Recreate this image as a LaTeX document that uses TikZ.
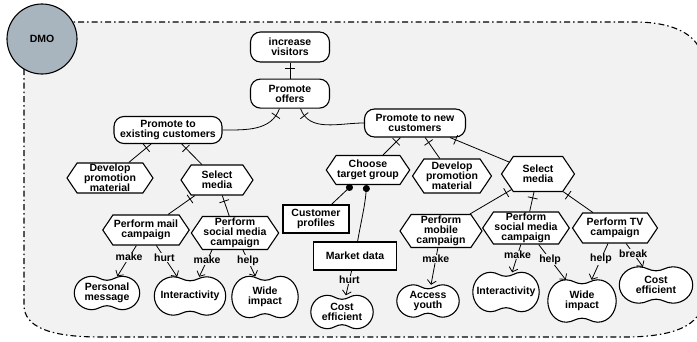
\documentclass[tikz,border=0pt]{standalone}
\usepackage{fontspec}
\setmainfont{Liberation Sans}
\usetikzlibrary{arrows.meta,calc,positioning,shapes.symbols,decorations.markings,backgrounds}

\definecolor{bggray}{RGB}{242,242,242}
\definecolor{dmoblue}{RGB}{168,180,190}
\newcommand{\istarfont}{\bfseries\fontsize{10.5}{9.8}\selectfont\lineskiplimit=-5pt\relax}

\tikzset{
  istar/.style={draw, fill=white, line width=1.1pt, align=center, inner sep=1pt, font=\istarfont},
  goal/.style={istar, rectangle, rounded corners=10pt},
  task/.style={istar, signal, signal to=west and east, signal pointer angle=112},
  res/.style={istar, rectangle},
  soft/.style={align=center, inner sep=1pt, font=\istarfont},
  softline/.style={draw, fill=white, line width=1.1pt},
  boundary/.style={draw, fill=bggray, line width=1.1pt, dash pattern=on 6pt off 3pt on 1.5pt off 3pt},
  andlink/.style={draw, line width=.8pt, postaction={decorate},
    decoration={markings, mark=at position #1 with {\draw[line width=.8pt] (0,-5pt) -- (0,5pt);}}},
  andlink/.default=6pt,
  deplink/.style={draw, line width=.8pt, -{Circle[length=7pt]}},
  contrib/.style={draw, line width=.8pt},
  lbl/.style={fill=bggray, inner sep=.5pt, font=\istarfont}
}

\begin{document}
\begin{tikzpicture}[>={Straight Barb[length=4pt,width=9pt]}, x=1pt, y=1pt]

    \useasboundingbox (0,0) rectangle (697,341);

    % actor
    \node[circle, draw, fill=dmoblue, line width=1.1pt, minimum size=70pt, font=\istarfont] (dmo) at (42,302) {DMO};

    % goals
    \node[goal, minimum width=79pt, minimum height=30pt]  (visitors) at (290,294)             {increase\\visitors};
    \node[goal, minimum width=79pt, minimum height=29pt]  (offers)   [below=16pt of visitors] {Promote\\offers};
    \node[goal, minimum width=108pt, minimum height=27pt] (existing) at (168,211)             {Promote to\\existing customers};
    \node[goal, minimum width=101pt, minimum height=28pt] (newcust)  at (415,218)             {Promote to new\\customers};

    % tasks
    \node[task, minimum width=86pt, minimum height=30pt] (devA)   at (110,163) {Develop\\promotion\\material};
    \node[task, minimum width=72pt, minimum height=30pt] (selA)   at (217,161) {Select\\media};
    \node[task, minimum width=85pt, minimum height=30pt] (mail)   at (146,111) {Perform mail\\campaign};
    \node[task, minimum width=83pt, minimum height=33pt] (socA)   at (235,108) {Perform\\social media\\campaign};
    \node[task, minimum width=78pt, minimum height=29pt] (choose) at (368,171) {Choose\\target group};
    \node[task, minimum width=79pt, minimum height=34pt] (devB)   at (452,165) {Develop\\promotion\\material};
    \node[task, minimum width=73pt, minimum height=35pt] (selB)   at (538,167) {Select\\media};
    \node[task, minimum width=82pt, minimum height=33pt] (mobile) at (441,110) {Perform\\mobile\\campaign};
    \node[task, minimum width=74pt, minimum height=32pt] (socB)   at (526,113) {Perform\\social media\\campaign};
    \node[task, minimum width=85pt, minimum height=30pt] (tv)     at (615,113) {Perform TV\\campaign};

    % resources
    \node[res, minimum width=66pt, minimum height=28pt] (profiles) at (316,122) {Customer\\profiles};
    \node[res, minimum width=83pt, minimum height=28pt] (market)   at (355,85)  {Market data};

    % softgoals
    \node[soft, minimum width=65pt, minimum height=33pt] (pers)   at (107,48) {Personal\\message};
    \node[soft, minimum width=71pt, minimum height=38pt] (interA) at (190,45) {Interactivity};
    \node[soft, minimum width=66pt, minimum height=41pt] (wideA)  at (265,44) {Wide\\impact};
    \node[soft, minimum width=62pt, minimum height=33pt] (costA)  at (342,29) {Cost\\efficient};
    \node[soft, minimum width=62pt, minimum height=32pt] (youth)  at (428,40) {Access\\youth};
    \node[soft, minimum width=66pt, minimum height=39pt] (interB) at (506,49) {Interactivity};
    \node[soft, minimum width=68pt, minimum height=42pt] (wideB)  at (582,40) {Wide\\impact};
    \node[soft, minimum width=73pt, minimum height=36pt] (costB)  at (656,56) {Cost\\efficient};

    \begin{scope}[on background layer]
        \draw[boundary] (24,319) -- (635,319) .. controls (675,319) and (702,305) .. (702,280)
                        -- (702,40) .. controls (702,15) and (672,4) .. (625,4)
                        -- (100,4) .. controls (50,4) and (24,14) .. (24,36) -- cycle;
        \foreach \n in {pers,interA,wideA,costA,youth,interB,wideB,costB}
            \draw[softline] (\n.west) to[out=90,in=180] ($(\n.north west)!.27!(\n.north east)$)
                            to[out=0,in=180] ($(\n.north)+(0,-4)$)
                            to[out=0,in=180] ($(\n.north west)!.73!(\n.north east)$)
                            to[out=0,in=90] (\n.east)
                            to[out=-90,in=0] ($(\n.south west)!.73!(\n.south east)$)
                            to[out=180,in=0] ($(\n.south)+(0,4)$)
                            to[out=180,in=0] ($(\n.south west)!.27!(\n.south east)$)
                            to[out=180,in=-90] (\n.west) -- cycle;
    \end{scope}

    % refinements
    \path (visitors)    edge [andlink]                          (offers)
          (offers.235)  edge [andlink=8pt, out=-110, in=0]      (existing.east)
          (offers.305)  edge [andlink=8pt, out=-70, in=180]     (newcust.west)
          (existing)    edge [andlink]                          (devA)
          (existing)    edge [andlink]                          (selA)
          (selA)        edge [andlink]                          (mail)
          (selA)        edge [andlink]                          (socA)
          (newcust)     edge [andlink]                          (choose)
          (newcust)     edge [andlink]                          (devB)
          (newcust)     edge [andlink]                          (selB)
          (selB)        edge [andlink]                          (mobile)
          (selB)        edge [andlink]                          (socB)
          (selB)        edge [andlink]                          (tv);

    % resources needed
    \path (profiles)    edge [deplink]                          (choose)
          (market)      edge [deplink, out=80, in=-95]          (choose);

    % contributions
    \path[->] (mail)    edge [contrib]  node[lbl, pos=.38]  {make}   (pers)
                        edge [contrib]  node[lbl, pos=.38]  {hurt}   (interA)
              ([xshift=-23pt]socA.south)
                        edge [contrib]  node[lbl, pos=.38]  {make}   (interA)
              (socA)    edge [contrib]  node[lbl, pos=.4]   {help}   (wideA)
              (market)  edge [contrib]  node[lbl, pos=.38]  {hurt}   (costA)
              (mobile)  edge [contrib]  node[lbl, pos=.3]   {make}   (youth)
              (socB)    edge [contrib]  node[lbl, pos=.38]  {make}   (interB)
                        edge [contrib]  node[lbl, pos=.42]  {help}   (wideB)
              (tv)      edge [contrib]  node[lbl, pos=.43]  {help}   (wideB)
                        edge [contrib]  node[lbl, pos=.42]  {break}  (costB);

\end{tikzpicture}
\end{document}
